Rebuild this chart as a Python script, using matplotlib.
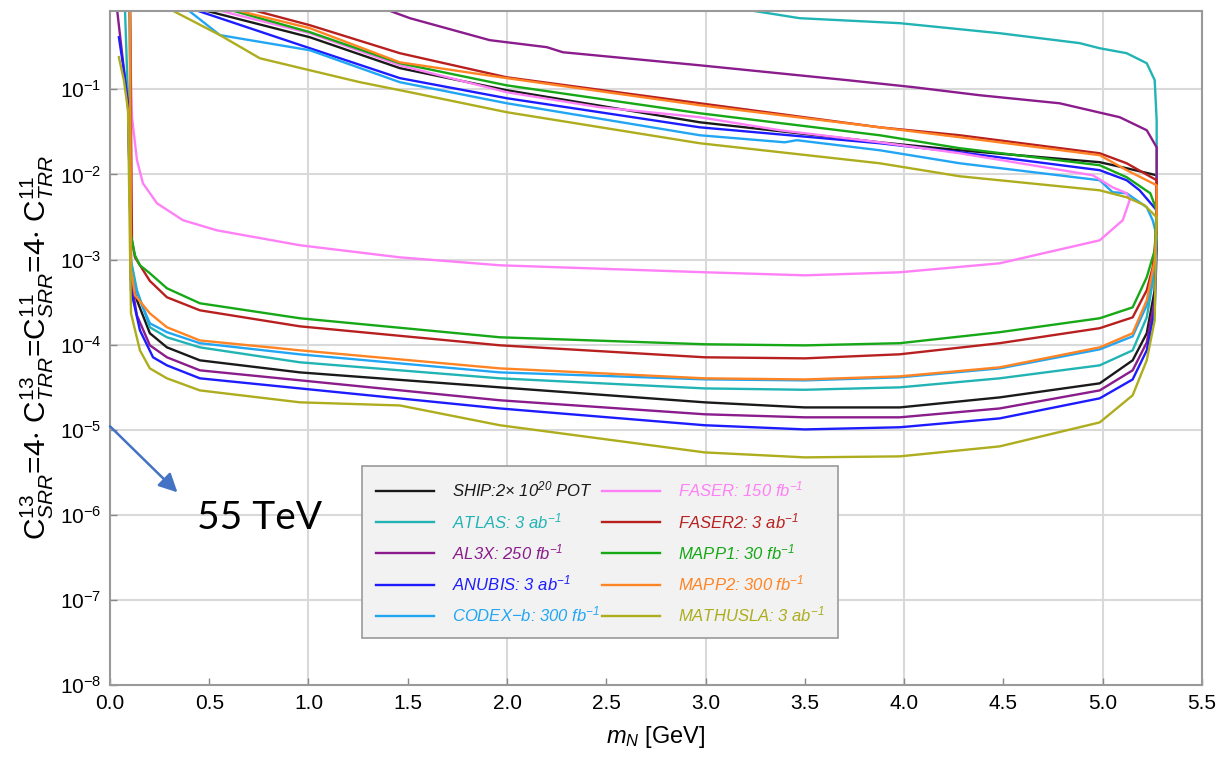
import matplotlib
matplotlib.use('Agg')
import matplotlib.pyplot as plt
from matplotlib.ticker import LogLocator, NullLocator

# Sensitivity contours in the (m_N, C) plane, one closed curve per experiment.
# Each path: down the low-mass wall, along the lower branch, up the kinematic
# endpoint near m_B, then back along the upper branch until it leaves the frame.
ship_m = [0.100, 0.106, 0.136, 0.201, 0.287, 0.453, 0.957, 1.964, 2.996, 3.50, 3.978, 4.481,
          4.985, 5.151, 5.222, 5.262, 5.272, 5.272, 5.121, 4.985, 4.280, 3.877, 2.971, 1.999,
          1.460, 1.007, 0.43]
ship_c = [1.5, 5.7e-4, 3.32e-4, 1.36e-4, 9.29e-5, 6.54e-5, 4.72e-5, 3.15e-5, 2.1e-5, 1.83e-5,
          1.83e-5, 2.4e-5, 3.51e-5, 6.54e-5, 1.36e-4, 4.35e-4, 2.2e-3, 9.76e-3, 1.18e-2, 1.39e-2,
          1.92e-2, 2.38e-2, 4.09e-2, 9.73e-2, 0.177, 0.408, 0.9]

atlas_m = [0.0755, 0.091, 0.101, 0.106, 0.136, 0.201, 0.287, 0.453, 0.957, 1.964, 2.996, 3.5,
           3.978, 4.481, 4.985, 5.151, 5.222, 5.262, 5.272, 5.272, 5.262, 5.222, 5.121, 4.985,
           4.884, 4.481, 3.978, 3.474, 3.15]
atlas_c = [0.9, 7.4e-2, 4.97e-3, 9.8e-4, 4.35e-4, 1.6e-4, 1.22e-4, 9.29e-5, 6.2e-5, 4.02e-5,
           3.06e-5, 2.95e-5, 3.15e-5, 4.02e-5, 5.71e-5, 8.57e-5, 2.09e-4, 7.47e-4, 4.97e-3,
           4.32e-2, 0.128, 0.202, 0.265, 0.303, 0.348, 0.455, 0.597, 0.683, 0.9]

al3x_m = [0.035, 0.065, 0.091, 0.101, 0.106, 0.136, 0.201, 0.287, 0.453, 0.957, 1.964, 2.996,
          3.5, 3.978, 4.481, 4.985, 5.151, 5.222, 5.262, 5.272, 5.272, 5.222, 5.086, 4.783,
          4.381, 4.043, 3.711, 2.971, 2.281, 2.200, 1.913, 1.511, 1.37]
al3x_c = [0.9, 0.219, 6.49e-2, 4.97e-3, 5.7e-4, 2.2e-4, 9.82e-5, 7.1e-5, 4.99e-5, 3.81e-5,
          2.22e-5, 1.52e-5, 1.4e-5, 1.4e-5, 1.78e-5, 2.9e-5, 4.99e-5, 1.06e-4, 3.32e-4, 2.89e-3,
          2.08e-2, 3.3e-2, 4.69e-2, 6.84e-2, 8.5e-2, 0.106, 0.128, 0.191, 0.272, 0.312, 0.377,
          0.683, 0.9]

anubis_m = [0.045, 0.070, 0.091, 0.101, 0.106, 0.151, 0.217, 0.287, 0.453, 0.957, 1.964, 2.996,
            3.5, 3.978, 4.481, 4.985, 5.151, 5.222, 5.262, 5.272, 5.272, 5.186, 5.121, 4.985,
            4.280, 3.877, 2.971, 1.999, 1.460, 1.007, 0.705, 0.40]
anubis_c = [0.408, 0.167, 6.49e-2, 4.97e-3, 4.35e-4, 1.47e-4, 7.1e-5, 5.71e-5, 4.02e-5, 3.06e-5,
            1.78e-5, 1.13e-5, 1.01e-5, 1.07e-5, 1.36e-5, 2.34e-5, 3.9e-5, 8.57e-5, 2.53e-4,
            1.28e-3, 3.79e-3, 6.5e-3, 8.53e-3, 1.12e-2, 1.82e-2, 2.32e-2, 3.57e-2, 7.84e-2, 0.135,
            0.303, 0.521, 0.9]

codex_m = [0.100, 0.106, 0.151, 0.201, 0.287, 0.453, 0.957, 1.964, 2.996, 3.5, 3.978, 4.481,
           4.985, 5.151, 5.222, 5.262, 5.272, 5.252, 5.222, 5.121, 5.050, 4.985, 4.280, 3.877,
           3.459, 3.399, 2.971, 1.999, 1.460, 1.007, 0.554, 0.38]
codex_c = [1.5, 6.52e-4, 3.32e-4, 1.78e-4, 1.40e-4, 1.04e-4, 7.69e-5, 4.72e-5, 3.91e-5, 3.8e-5,
           4.13e-5, 5.26e-5, 8.8e-5, 1.25e-4, 2.9e-4, 8.55e-4, 1.92e-3, 2.89e-3, 4.1e-3, 6.0e-3,
           6.17e-3, 8.53e-3, 1.35e-2, 1.92e-2, 2.52e-2, 2.38e-2, 2.88e-2, 6.84e-2, 0.121, 0.287,
           0.432, 0.9]

faser_m = [0.100, 0.106, 0.111, 0.136, 0.166, 0.237, 0.368, 0.539, 0.957, 1.460, 1.964, 2.996,
           3.5, 3.978, 4.481, 4.985, 5.101, 5.136, 5.121, 5.050, 4.950, 4.280, 3.877, 3.374,
           2.971, 2.467, 1.999, 1.460, 1.007, 0.50]
faser_c = [1.5, 0.128, 4.69e-2, 1.47e-2, 7.86e-3, 4.57e-3, 2.89e-3, 2.2e-3, 1.47e-3, 1.06e-3,
           8.55e-4, 7.08e-4, 6.52e-4, 7.08e-4, 9.02e-4, 1.68e-3, 2.89e-3, 4.97e-3, 6.0e-3, 7.05e-3,
           9.76e-3, 1.77e-2, 2.38e-2, 3.3e-2, 4.69e-2, 6.14e-2, 9.22e-2, 0.191, 0.455, 0.9]

faser2_m = [0.100, 0.111, 0.126, 0.201, 0.287, 0.453, 0.957, 1.964, 2.996, 3.5, 3.978, 4.481,
            4.985, 5.151, 5.222, 5.252, 5.272, 5.272, 5.121, 4.985, 4.280, 3.877, 2.971, 1.999,
            1.460, 1.007, 0.68]
faser2_c = [1.5, 1.68e-3, 1.06e-3, 5.6e-4, 3.6e-4, 2.53e-4, 1.64e-4, 9.82e-5, 7.1e-5, 6.9e-5,
            7.7e-5, 1.04e-4, 1.56e-4, 2.09e-4, 4.35e-4, 8.1e-4, 2.2e-3, 8.53e-3, 1.35e-2, 1.77e-2,
            2.88e-2, 3.57e-2, 6.84e-2, 0.138, 0.265, 0.565, 0.9]

mapp1_m = [0.100, 0.106, 0.126, 0.151, 0.201, 0.287, 0.453, 0.957, 1.964, 2.996, 3.5, 3.978,
           4.481, 4.985, 5.151, 5.222, 5.262, 5.272, 5.24, 5.121, 4.985, 4.280, 3.877, 2.971,
           1.999, 1.460, 1.007, 0.57]
mapp1_c = [1.5, 1.92e-3, 1.12e-3, 8.55e-4, 6.89e-4, 4.59e-4, 3.06e-4, 2.04e-4, 1.22e-4, 1.01e-4,
           9.8e-5, 1.04e-4, 1.40e-4, 2.04e-4, 2.74e-4, 6.18e-4, 1.28e-3, 3.79e-3, 6.0e-3, 9.25e-3,
           1.28e-2, 2.03e-2, 2.88e-2, 5.22e-2, 0.111, 0.202, 0.468, 0.9]

mapp2_m = [0.100, 0.106, 0.126, 0.201, 0.287, 0.453, 0.957, 1.964, 2.996, 3.5, 3.978, 4.481,
           4.985, 5.151, 5.222, 5.262, 5.272, 5.272, 5.121, 4.985, 4.280, 3.877, 2.971, 1.999,
           1.460, 1.007, 0.59]
mapp2_c = [1.5, 7.47e-4, 3.8e-4, 2.33e-4, 1.6e-4, 1.12e-4, 8.57e-5, 5.26e-5, 4.02e-5, 3.9e-5,
           4.24e-5, 5.41e-5, 9.29e-5, 1.36e-4, 3.32e-4, 9.8e-4, 2.89e-3, 7.45e-3, 1.12e-2, 1.68e-2,
           2.73e-2, 3.57e-2, 6.49e-2, 0.135, 0.207, 0.521, 0.9]

mathusla_m = [0.045, 0.070, 0.091, 0.101, 0.106, 0.151, 0.201, 0.287, 0.453, 0.957, 1.460, 1.964,
              2.996, 3.5, 3.978, 4.481, 4.985, 5.151, 5.222, 5.262, 5.272, 5.211, 5.121, 4.985,
              4.280, 3.877, 2.971, 1.999, 1.511, 1.259, 1.007, 0.755, 0.554, 0.29]
mathusla_c = [0.238, 0.128, 5.66e-2, 1.28e-3, 2.33e-4, 8.57e-5, 5.26e-5, 4.02e-5, 2.9e-5, 2.1e-5,
              1.93e-5, 1.13e-5, 5.42e-6, 4.74e-6, 4.87e-6, 6.38e-6, 1.22e-5, 2.54e-5, 6.54e-5,
              1.93e-4, 3.13e-3, 4.34e-3, 5.38e-3, 6.5e-3, 9.5e-3, 1.35e-2, 2.32e-2, 5.37e-2,
              9.22e-2, 0.121, 0.167, 0.231, 0.432, 0.9]

labels = ['SHIP:2$\\times$ 10$^{20}$ POT', 'ATLAS: 3 ab$^{-1}$', 'AL3X: 250 fb$^{-1}$',
          'ANUBIS: 3 ab$^{-1}$', 'CODEX$-$b: 300 fb$^{-1}$', 'FASER: 150 fb$^{-1}$',
          'FASER2: 3 ab$^{-1}$', 'MAPP1: 30 fb$^{-1}$', 'MAPP2: 300 fb$^{-1}$',
          'MATHUSLA: 3 ab$^{-1}$']
colors = ['#1a1a1a', '#22b4b4', '#8a1c8c', '#1c1cff', '#22a6f4', '#ff80f6',
          '#b82020', '#16a816', '#ff8424', '#adad1e']

x_ticks = [0.0, 0.5, 1.0, 1.5, 2.0, 2.5, 3.0, 3.5, 4.0, 4.5, 5.0, 5.5]


def main():
    plt.rcParams['font.family'] = ['Liberation Sans', 'DejaVu Sans']
    plt.rcParams['mathtext.fontset'] = 'custom'
    plt.rcParams['mathtext.rm'] = 'Liberation Sans'
    plt.rcParams['mathtext.it'] = 'Liberation Sans:italic'
    plt.rcParams['mathtext.default'] = 'regular'

    fig = plt.figure(figsize=(12.19, 7.63), dpi=100)
    ax = fig.add_axes([0.0902, 0.102, 0.8958, 0.8836])

    curves = [(ship_m, ship_c), (atlas_m, atlas_c), (al3x_m, al3x_c), (anubis_m, anubis_c),
              (codex_m, codex_c), (faser_m, faser_c), (faser2_m, faser2_c), (mapp1_m, mapp1_c),
              (mapp2_m, mapp2_c), (mathusla_m, mathusla_c)]
    for (m, c), lab, col in zip(curves, labels, colors):
        ax.plot(m, c, color=col, lw=1.7, label=lab, solid_joinstyle='round')

    ax.set_yscale('log')
    ax.set_xlim(0, 5.5)
    ax.set_ylim(1e-8, 0.83)
    ax.set_xticks(x_ticks)
    ax.set_xticklabels([f'{t:.1f}' for t in x_ticks])
    ax.xaxis.set_minor_locator(NullLocator())
    ax.yaxis.set_major_locator(LogLocator(base=10, numticks=12))
    ax.yaxis.set_minor_locator(NullLocator())
    ax.tick_params(axis='both', direction='in', length=5, width=1, color='#888888',
                   labelsize=15, pad=6)

    # grid only on whole GeV and decades
    for gx in [1.0, 2.0, 3.0, 4.0, 5.0]:
        ax.axvline(gx, color='#d9d9d9', lw=1.5, zorder=0)
    for k in range(-7, 0):
        ax.axhline(10.0 ** k, color='#d9d9d9', lw=1.5, zorder=0)

    for sp in ax.spines.values():
        sp.set_color('#999999')
        sp.set_linewidth(1.5)

    ax.set_xlabel('$\\mathit{m_N}$ [GeV]', fontsize=17, labelpad=8)
    ax.set_ylabel('$C^{13}_{\\mathit{SRR}}$=4$\\cdot$ $C^{13}_{\\mathit{TRR}}$='
                  '$C^{11}_{\\mathit{SRR}}$=4$\\cdot$ $C^{11}_{\\mathit{TRR}}$', fontsize=21.5)
    ax.yaxis.set_label_coords(-0.049, 0.5)

    leg = ax.legend(ncol=2, loc='lower left', bbox_to_anchor=(0.231, 0.07, 0.436, 0.261),
                    mode='expand', prop={'style': 'italic', 'size': 12}, labelcolor='linecolor',
                    handlelength=3.5, handletextpad=1.1, labelspacing=0.68, columnspacing=1.0,
                    fancybox=False, framealpha=1.0, borderaxespad=0, borderpad=0.8)
    leg.get_frame().set_facecolor('#f2f2f2')
    leg.get_frame().set_edgecolor('#9a9a9a')
    leg.get_frame().set_linewidth(1.2)

    # center energy note with arrow
    ax.annotate('', xy=(0.34, 1.84e-6), xytext=(0.0, 1.1e-5), annotation_clip=False,
                arrowprops=dict(arrowstyle='-|>', color='#4472c4', lw=1.8, mutation_scale=28,
                                shrinkA=0, shrinkB=0))
    ax.text(0.44, 9.3e-7, '55 TeV', fontsize=28, family=['Lato', 'DejaVu Sans'],
            va='center', ha='left', color='black')

    fig.savefig('out.png', dpi=100)
    plt.close(fig)


if __name__ == '__main__':
    main()
